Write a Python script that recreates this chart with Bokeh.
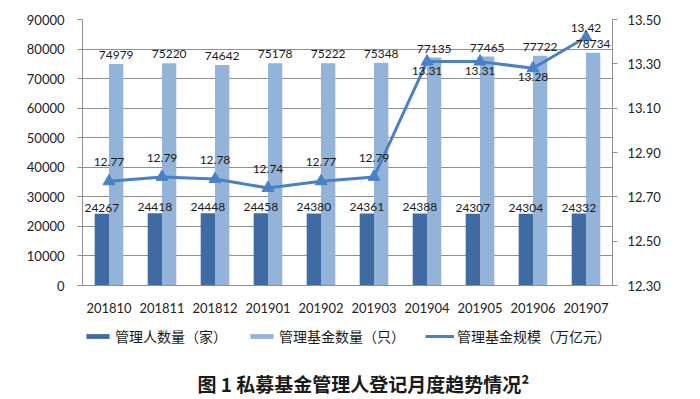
from bokeh.plotting import figure
from bokeh.layouts import column
from bokeh.models import (Range1d, LinearAxis, FixedTicker, NumeralTickFormatter,
                          ColumnDataSource, LabelSet, Legend, LegendItem, Label)
from bokeh.core.properties import value
from bokeh.transform import dodge
from bokeh.embed import file_html
from bokeh.resources import INLINE

months = ["201810", "201811", "201812", "201901", "201902",
          "201903", "201904", "201905", "201906", "201907"]
managers = [24267, 24418, 24448, 24458, 24380, 24361, 24388, 24307, 24304, 24332]
funds = [74979, 75220, 74642, 75178, 75222, 75348, 77135, 77465, 77722, 78734]
scale = [12.77, 12.79, 12.78, 12.74, 12.77, 12.79, 13.31, 13.31, 13.28, 13.42]

# label placement (screen px) for the line's data labels
line_label_dy = [15, 15, 15, 15, 15, 15, -13, -13, -13, 5]

DARK = "#3F6AA2"
LIGHT = "#94B3D8"
LINE = "#4A80C6"
GRID = "#8E8E8E"
NUM_FONT = "Lato"
CJK = "Noto Sans CJK SC"

src = ColumnDataSource(dict(
    m=months, managers=managers, funds=funds, scale=scale,
    mlab=[str(v) for v in managers], flab=[str(v) for v in funds],
    slab=["%.2f" % v for v in scale], dy=line_label_dy,
))

p = figure(x_range=months, y_range=Range1d(0, 90000),
           frame_width=530, frame_height=266,
           output_backend="svg", toolbar_location=None,
           min_border_left=82, min_border_right=88, min_border_top=19,
           min_border_bottom=37)
p.outline_line_color = None
p.extra_y_ranges = {"right": Range1d(12.30, 13.50)}

w = 0.27
dark = p.vbar(x=dodge("m", -0.135, range=p.x_range), top="managers", width=w,
              source=src, fill_color=DARK, line_color=None)
light = p.vbar(x=dodge("m", 0.135, range=p.x_range), top="funds", width=w,
               source=src, fill_color=LIGHT, line_color=None)
ln = p.line(x="m", y="scale", source=src, y_range_name="right",
            line_color=LINE, line_width=3)
mk = p.scatter(x="m", y="scale", source=src, y_range_name="right",
               marker="triangle", size=12, fill_color=LINE, line_color=LINE)

lab_kw = dict(text_font=value(NUM_FONT), text_font_size="12px", text_color="#1a1a1a",
              text_align="center", text_baseline="bottom")
p.add_layout(LabelSet(x=dodge("m", -0.135, range=p.x_range), y="managers",
                      text="mlab", source=src, y_offset=2, **lab_kw))
p.add_layout(LabelSet(x=dodge("m", 0.135, range=p.x_range), y="funds",
                      text="flab", source=src, y_offset=5, **lab_kw))
p.add_layout(LabelSet(x="m", y="scale", text="slab", source=src,
                      y_range_name="right", y_offset="dy", **lab_kw))

# axes
p.yaxis.ticker = FixedTicker(ticks=list(range(0, 90001, 10000)))
p.yaxis.axis_line_color = GRID
p.yaxis.major_tick_line_color = GRID
p.yaxis.major_tick_out = 5
p.yaxis.major_tick_in = 0
p.yaxis.minor_tick_line_color = None
p.yaxis.major_label_text_font = NUM_FONT
p.yaxis.major_label_text_font_size = "13px"
p.yaxis.major_label_text_color = "#222222"
p.yaxis.major_label_standoff = 13

ry = LinearAxis(y_range_name="right",
                ticker=FixedTicker(ticks=[12.3, 12.5, 12.7, 12.9, 13.1, 13.3, 13.5]),
                formatter=NumeralTickFormatter(format="0.00"))
ry.axis_line_color = GRID
ry.major_tick_line_color = GRID
ry.major_tick_out = 5
ry.major_tick_in = 0
ry.minor_tick_line_color = None
ry.major_label_text_font = NUM_FONT
ry.major_label_text_font_size = "13px"
ry.major_label_text_color = "#222222"
ry.major_label_standoff = 10
p.add_layout(ry, "right")

p.xaxis.axis_line_color = GRID
p.xaxis.major_tick_line_color = None
p.xaxis.minor_tick_line_color = None
p.xaxis.major_label_text_font = NUM_FONT
p.xaxis.major_label_text_font_size = "13px"
p.xaxis.major_label_text_color = "#222222"
p.xaxis.major_label_standoff = 11

p.xgrid.grid_line_color = None
p.ygrid.grid_line_color = GRID
p.ygrid.ticker = FixedTicker(ticks=list(range(0, 90001, 10000)))

# ---- legend + caption strip below the chart (frame aligned with the chart) ----
p2 = figure(width=700, height=77, x_range=Range1d(82, 612), y_range=Range1d(0, 77),
            output_backend="svg", toolbar_location=None,
            min_border_left=0, min_border_right=0,
            min_border_top=0, min_border_bottom=0)
p2.axis.visible = False
p2.grid.visible = False
p2.outline_line_color = None

# off-screen stand-ins so the legend can draw its swatches
d_dark = p2.vbar(x=[-1000], top=[-1000], width=1, fill_color=DARK, line_color=None)
d_light = p2.vbar(x=[-1000], top=[-1000], width=1, fill_color=LIGHT, line_color=None)
d_line = p2.line(x=[-1000, -999], y=[-1000, -1000], line_color=LINE, line_width=3)
d_mk = p2.scatter(x=[-1000], y=[-1000], marker="triangle", size=10,
                  fill_color=LINE, line_color=LINE)

legend = Legend(items=[
    LegendItem(label="管理人数量（家）", renderers=[d_dark]),
    LegendItem(label="管理基金数量（只）", renderers=[d_light]),
    LegendItem(label="管理基金规模（万亿元）", renderers=[d_line, d_mk]),
], orientation="horizontal", location=(1, 53))
legend.label_text_font = CJK
legend.label_text_font_size = "14px"
legend.label_text_color = "#1a1a1a"
legend.label_height = 18
legend.glyph_width = 29
legend.glyph_height = 6
legend.label_standoff = 3
legend.spacing = 20
legend.padding = 0
legend.margin = 0
legend.border_line_color = None
legend.background_fill_alpha = 0
p2.add_layout(legend, "center")

p2.add_layout(Label(x=365, y=16, text="图 1  私募基金管理人登记月度趋势情况²",
                    text_align="center", text_baseline="middle",
                    text_font=CJK, text_font_size="19px",
                    text_font_style="bold", text_color="#1a1a1a"))

layout = column(p, p2, spacing=0)
open("out.html", "w").write(file_html(layout, INLINE))
